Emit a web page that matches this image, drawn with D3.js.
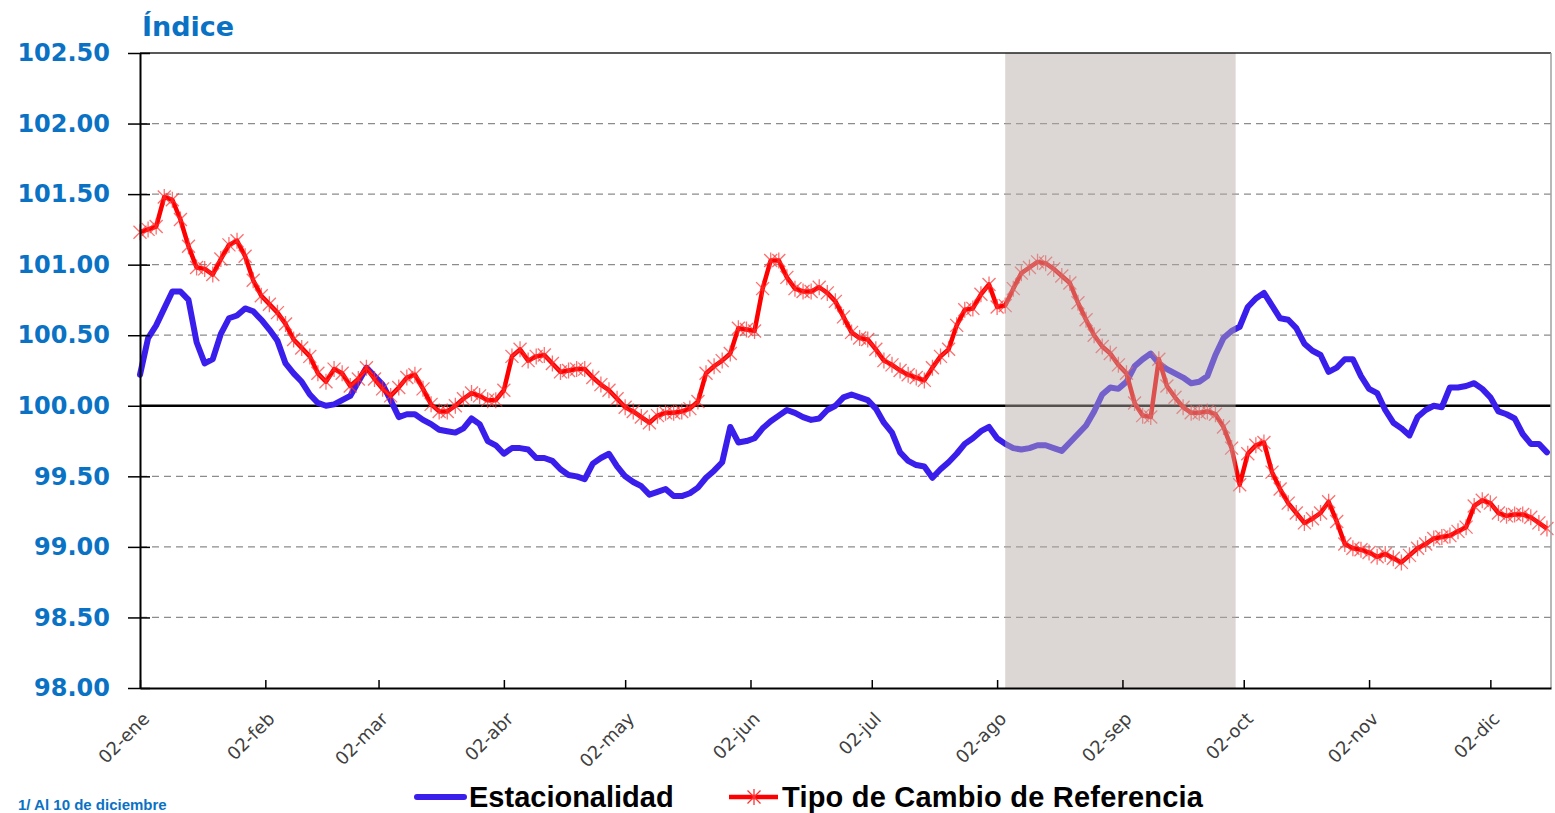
<!DOCTYPE html>
<html>
<head>
<meta charset="utf-8">
<script src="https://cdn.jsdelivr.net/npm/d3@7"></script>
<style>
	body { margin: 0; background: #fff; }
</style>
</head>
<body>
<svg id="svg1" width="1555" height="813"></svg>
<script>
// fechas: one value every second day, 02-ene to 16-dic
var fechas = d3.timeDay.range(new Date(2021, 0, 2), new Date(2021, 11, 17), 2);

var estacionalidad = [
	100.22, 100.48, 100.57, 100.69, 100.81, 100.81, 100.75, 100.45, 100.30, 100.33,
	100.51, 100.62, 100.64, 100.69, 100.67, 100.61, 100.54, 100.46, 100.30, 100.23,
	100.17, 100.08, 100.02, 100.00, 100.01, 100.04, 100.07, 100.17, 100.27, 100.21,
	100.15, 100.04, 99.92, 99.94, 99.94, 99.90, 99.87, 99.83, 99.82, 99.81,
	99.84, 99.91, 99.87, 99.75, 99.72, 99.66, 99.70, 99.70, 99.69, 99.63,
	99.63, 99.61, 99.55, 99.51, 99.50, 99.48, 99.59, 99.63, 99.66, 99.57,
	99.50, 99.46, 99.43, 99.37, 99.39, 99.41, 99.36, 99.36, 99.38, 99.42,
	99.49, 99.54, 99.60, 99.85, 99.74, 99.75, 99.77, 99.84, 99.89, 99.93,
	99.97, 99.95, 99.92, 99.90, 99.91, 99.97, 100.00, 100.06, 100.08, 100.06,
	100.04, 99.98, 99.88, 99.81, 99.67, 99.61, 99.58, 99.57, 99.49, 99.55,
	99.60, 99.66, 99.73, 99.77, 99.82, 99.85, 99.77, 99.73, 99.70, 99.69,
	99.70, 99.72, 99.72, 99.70, 99.68, 99.74, 99.80, 99.86, 99.96, 100.08,
	100.13, 100.12, 100.17, 100.28, 100.33, 100.37, 100.30, 100.26, 100.23, 100.20,
	100.16, 100.17, 100.21, 100.36, 100.48, 100.53, 100.56, 100.70, 100.76, 100.80,
	100.71, 100.62, 100.61, 100.55, 100.44, 100.39, 100.36, 100.24, 100.27, 100.33,
	100.33, 100.21, 100.12, 100.09, 99.97, 99.88, 99.84, 99.79, 99.92, 99.97,
	100.00, 99.99, 100.13, 100.13, 100.14, 100.16, 100.12, 100.06, 99.96, 99.94,
	99.91, 99.80, 99.73, 99.73, 99.67
];

var tipoCambio = [
	101.23, 101.25, 101.27, 101.48, 101.46, 101.32, 101.13, 100.98, 100.97, 100.93,
	101.04, 101.14, 101.17, 101.06, 100.89, 100.78, 100.72, 100.66, 100.58, 100.47,
	100.41, 100.35, 100.23, 100.17, 100.26, 100.23, 100.14, 100.19, 100.27, 100.19,
	100.12, 100.07, 100.13, 100.20, 100.22, 100.12, 100.01, 99.96, 99.96, 100.00,
	100.05, 100.09, 100.07, 100.04, 100.04, 100.11, 100.35, 100.40, 100.32, 100.35,
	100.36, 100.30, 100.24, 100.25, 100.26, 100.26, 100.20, 100.15, 100.11, 100.05,
	99.99, 99.96, 99.92, 99.88, 99.93, 99.95, 99.95, 99.96, 99.98, 100.03,
	100.23, 100.28, 100.32, 100.37, 100.55, 100.54, 100.53, 100.83, 101.03, 101.03,
	100.91, 100.83, 100.81, 100.81, 100.84, 100.80, 100.74, 100.63, 100.52, 100.48,
	100.47, 100.40, 100.32, 100.29, 100.25, 100.22, 100.20, 100.18, 100.27, 100.35,
	100.40, 100.57, 100.68, 100.69, 100.79, 100.86, 100.70, 100.71, 100.83, 100.94,
	100.98, 101.02, 101.01, 100.97, 100.92, 100.87, 100.73, 100.61, 100.50, 100.42,
	100.37, 100.29, 100.23, 100.02, 99.93, 99.92, 100.33, 100.14, 100.06, 99.99,
	99.95, 99.95, 99.96, 99.94, 99.85, 99.70, 99.44, 99.66, 99.72, 99.74,
	99.53, 99.41, 99.31, 99.24, 99.17, 99.20, 99.24, 99.32, 99.18, 99.02,
	98.99, 98.98, 98.96, 98.93, 98.95, 98.92, 98.89, 98.94, 98.99, 99.02,
	99.06, 99.07, 99.08, 99.11, 99.14, 99.29, 99.33, 99.31, 99.24, 99.22,
	99.23, 99.23, 99.21, 99.17, 99.13
];

var tickFechas = [
	new Date(2021, 0, 2), new Date(2021, 1, 2), new Date(2021, 2, 2), new Date(2021, 3, 2),
	new Date(2021, 4, 2), new Date(2021, 5, 2), new Date(2021, 6, 2), new Date(2021, 7, 2),
	new Date(2021, 8, 2), new Date(2021, 9, 2), new Date(2021, 10, 2), new Date(2021, 11, 2)
];
var tickLabels = ["02-ene", "02-feb", "02-mar", "02-abr", "02-may", "02-jun",
	"02-jul", "02-ago", "02-sep", "02-oct", "02-nov", "02-dic"];
var yTicks = [98.0, 98.5, 99.0, 99.5, 100.0, 100.5, 101.0, 101.5, 102.0, 102.5];

// shaded period
var sombra = [new Date(2021, 7, 4), new Date(2021, 8, 30)];

var series = ["Estacionalidad", "Tipo de Cambio de Referencia"];

var svg1 = d3.select("#svg1"),
	margin = {top: 53, right: 4, bottom: 125, left: 140},
	width = +svg1.attr("width") - margin.left - margin.right,
	height = +svg1.attr("height") - margin.top - margin.bottom,
	g1 = svg1.append("g").attr("transform", "translate(" + margin.left + "," + margin.top + ")");

var x = d3.scaleTime()
	.domain([new Date(2021, 0, 2), new Date(2021, 11, 17)])
	.range([0, width]);

var y = d3.scaleLinear()
	.domain([98, 102.5])
	.range([height, 0]);

var blue = "#3a1fec",
	red = "#ff0000",
	azulTexto = "#0a72c4";

// gridlines (dashed)
g1.append("g")
	.selectAll("line")
	.data(yTicks.filter(function(d) { return d > 98 && d < 102.5 && d != 100; }))
	.enter().append("line")
	.attr("x1", 0)
	.attr("x2", width)
	.attr("y1", function(d) { return y(d); })
	.attr("y2", function(d) { return y(d); })
	.attr("stroke", "#8c8c8c")
	.attr("stroke-width", 1.3)
	.attr("stroke-dasharray", "7,5");

// 100 reference line
g1.append("line")
	.attr("x1", 0)
	.attr("x2", width)
	.attr("y1", y(100))
	.attr("y2", y(100))
	.attr("stroke", "#000")
	.attr("stroke-width", 2.5);

var line1 = d3.line()
	.x(function(d, i) { return x(fechas[i]); })
	.y(function(d) { return y(d); });

g1.append("path")
	.datum(estacionalidad)
	.attr("fill", "none")
	.attr("stroke", blue)
	.attr("stroke-width", 6)
	.attr("stroke-linejoin", "round")
	.attr("stroke-linecap", "round")
	.attr("d", line1);

g1.append("path")
	.datum(tipoCambio)
	.attr("fill", "none")
	.attr("stroke", red)
	.attr("stroke-width", 4.5)
	.attr("stroke-linejoin", "round")
	.attr("d", line1);

var asterisco = "M-6.5,-6.5L6.5,6.5M-6.5,6.5L6.5,-6.5M0,-8L0,8";

g1.append("g")
	.selectAll("path")
	.data(tipoCambio)
	.enter().append("path")
	.attr("transform", function(d, i) { return "translate(" + x(fechas[i]) + "," + y(d) + ")"; })
	.attr("d", asterisco)
	.attr("fill", "none")
	.attr("stroke", "#ff3030")
	.attr("stroke-opacity", 0.7)
	.attr("stroke-width", 1.3);

// shaded band over the lines
g1.append("rect")
	.attr("x", x(sombra[0]))
	.attr("y", 0)
	.attr("width", x(sombra[1]) - x(sombra[0]))
	.attr("height", height)
	.attr("fill", "rgb(180,170,165)")
	.attr("fill-opacity", 0.47);

// frame
g1.append("line")
	.attr("x1", 0).attr("x2", width)
	.attr("y1", 0).attr("y2", 0)
	.attr("stroke", "#222")
	.attr("stroke-width", 1.5);

g1.append("line")
	.attr("x1", width).attr("x2", width)
	.attr("y1", 0).attr("y2", height)
	.attr("stroke", "#a0a0a0")
	.attr("stroke-width", 1.5);

// y axis
var yAxis = g1.append("g")
	.call(d3.axisLeft(y).tickValues(yTicks).tickSizeInner(12).tickSizeOuter(0).tickPadding(18)
		.tickFormat(function(d) { return d.toFixed(2); }));

yAxis.select(".domain").attr("stroke", "#000").attr("stroke-width", 2);
yAxis.selectAll(".tick line")
	.attr("x2", -12)
	.attr("x1", 10)
	.attr("stroke", "#000")
	.attr("stroke-width", 1.5);
yAxis.selectAll(".tick text")
	.attr("font-family", "DejaVu Sans, Verdana, sans-serif")
	.attr("font-weight", "bold")
	.attr("font-size", 24)
	.attr("fill", azulTexto);

// x axis
var xAxis = g1.append("g")
	.attr("transform", "translate(0," + height + ")")
	.call(d3.axisBottom(x).tickValues(tickFechas).tickSizeInner(-8).tickSizeOuter(0)
		.tickFormat(function(d, i) { return tickLabels[i]; }));

xAxis.select(".domain").attr("stroke", "#000").attr("stroke-width", 2);
xAxis.selectAll(".tick line").attr("stroke", "#000").attr("stroke-width", 1.5);
xAxis.selectAll(".tick text")
	.attr("font-family", "DejaVu Sans, Verdana, sans-serif")
	.attr("font-size", 18)
	.attr("fill", "#404040")
	.attr("y", 0)
	.attr("dy", 0)
	.style("text-anchor", "end")
	.attr("transform", "translate(10,32) rotate(-45)");

// title
svg1.append("text")
	.attr("x", 142)
	.attr("y", 36)
	.attr("font-family", "DejaVu Sans, Verdana, sans-serif")
	.attr("font-weight", "bold")
	.attr("font-size", 27)
	.attr("fill", azulTexto)
	.text("Índice");

// legend
var legend = svg1.append("g")
	.attr("font-family", "Liberation Sans, Arial, sans-serif")
	.attr("font-weight", "bold")
	.attr("font-size", 29);

legend.append("line")
	.attr("x1", 417).attr("x2", 464)
	.attr("y1", 797).attr("y2", 797)
	.attr("stroke", blue)
	.attr("stroke-width", 6)
	.attr("stroke-linecap", "round");

legend.append("text")
	.attr("x", 469)
	.attr("y", 807)
	.attr("fill", "#000")
	.text(series[0]);

legend.append("line")
	.attr("x1", 729).attr("x2", 778)
	.attr("y1", 797).attr("y2", 797)
	.attr("stroke", red)
	.attr("stroke-width", 4.5);

legend.append("path")
	.attr("transform", "translate(754,797)")
	.attr("d", asterisco)
	.attr("fill", "none")
	.attr("stroke", "#ff3030")
	.attr("stroke-width", 1.3);

legend.append("text")
	.attr("x", 782)
	.attr("y", 807)
	.attr("fill", "#000")
	.attr("textLength", 421)
	.text(series[1]);

// footnote at the bottom edge
svg1.append("text")
	.attr("x", 18)
	.attr("y", 810)
	.attr("font-family", "Liberation Sans, Arial, sans-serif")
	.attr("font-weight", "bold")
	.attr("font-size", 15)
	.attr("fill", azulTexto)
	.text("1/ Al 10 de diciembre");
</script>
</body>
</html>
